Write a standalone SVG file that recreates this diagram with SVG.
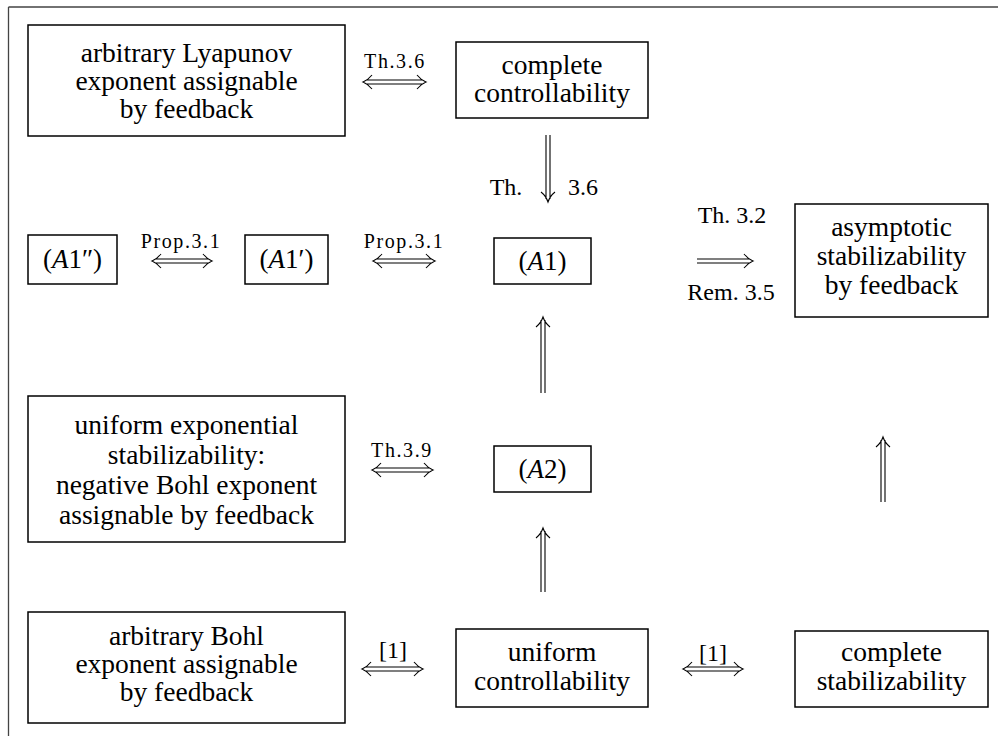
<svg xmlns="http://www.w3.org/2000/svg" width="998" height="738" viewBox="0 0 998 738">
<style>
text{font-family:'Liberation Serif','DejaVu Serif',serif;fill:#000;text-anchor:middle}
.n{font-size:27.5px}
.m{font-size:27px}
.l{font-size:20px;letter-spacing:1.6px}
.L{font-size:24px}
.b{fill:#fff;stroke:#000;stroke-width:1.5}
.a{fill:none;stroke:#000;stroke-width:1.1}
.f{fill:none;stroke:#444;stroke-width:1.3}
</style>
<rect width="998" height="738" fill="#fff"/>
<path class="f" d="M8.5,7 H998 M8.5,7 V736"/>

<g id="n-lyap"><rect class="b" x="28" y="25" width="317" height="111"/>
<text class="n" x="186.5" y="62">arbitrary Lyapunov</text>
<text class="n" x="186.5" y="90">exponent assignable</text>
<text class="n" x="186.5" y="118">by feedback</text></g>

<g id="n-cc"><rect class="b" x="456" y="42" width="192" height="76"/>
<text class="n" x="552" y="74">complete</text>
<text class="n" x="552" y="102">controllability</text></g>

<g id="n-a1pp"><rect class="b" x="28" y="235" width="89" height="49"/>
<text class="m" x="72.5" y="268">(<tspan font-style="italic">A</tspan>1″)</text></g>

<g id="n-a1p"><rect class="b" x="245" y="235" width="83" height="49"/>
<text class="m" x="286.5" y="268">(<tspan font-style="italic">A</tspan>1′)</text></g>

<g id="n-a1"><rect class="b" x="494" y="238" width="97" height="46"/>
<text class="m" x="542.5" y="270">(<tspan font-style="italic">A</tspan>1)</text></g>

<g id="n-asym"><rect class="b" x="795" y="204" width="193" height="113"/>
<text class="n" x="891.5" y="236">asymptotic</text>
<text class="n" x="891.5" y="265">stabilizability</text>
<text class="n" x="891.5" y="294">by feedback</text></g>

<g id="n-ues"><rect class="b" x="28" y="396" width="317" height="146"/>
<text class="n" x="186.5" y="434">uniform exponential</text>
<text class="n" x="186.5" y="464">stabilizability:</text>
<text class="n" x="186.5" y="494">negative Bohl exponent</text>
<text class="n" x="186.5" y="524">assignable by feedback</text></g>

<g id="n-a2"><rect class="b" x="494" y="446" width="97" height="46"/>
<text class="m" x="542.5" y="478">(<tspan font-style="italic">A</tspan>2)</text></g>

<g id="n-bohl"><rect class="b" x="28" y="612" width="317" height="111"/>
<text class="n" x="186.5" y="645">arbitrary Bohl</text>
<text class="n" x="186.5" y="673">exponent assignable</text>
<text class="n" x="186.5" y="701">by feedback</text></g>

<g id="n-uc"><rect class="b" x="456" y="629" width="192" height="78"/>
<text class="n" x="552" y="661">uniform</text>
<text class="n" x="552" y="690">controllability</text></g>

<g id="n-cs"><rect class="b" x="795" y="631" width="193" height="76"/>
<text class="n" x="891.5" y="661">complete</text>
<text class="n" x="891.5" y="690">stabilizability</text></g>

<g id="connectors">
<path class="a" d="M366,80 H423 M366,84 H423 M372,75 Q368,80 363,82 Q368,84 372,89 M417,75 Q421,80 426,82 Q421,84 417,89"/>
<text class="l" x="395" y="68">Th.3.6</text>
<path class="a" d="M546,135 V199 M550,135 V199 M541,192 Q546,196 548,202 Q550,196 555,192"/>
<text class="L" x="506" y="195">Th.</text>
<text class="L" x="583" y="195">3.6</text>
<path class="a" d="M155,259 H209 M155,263 H209 M161,254 Q157,259 152,261 Q157,263 161,268 M203,254 Q207,259 212,261 Q207,263 203,268"/>
<text class="l" x="181" y="248">Prop.3.1</text>
<path class="a" d="M376,259 H432 M376,263 H432 M382,254 Q378,259 373,261 Q378,263 382,268 M426,254 Q430,259 435,261 Q430,263 426,268"/>
<text class="l" x="404" y="248">Prop.3.1</text>
<path class="a" d="M697,259 H750 M697,263 H750 M744,254 Q748,259 753,261 Q748,263 744,268"/>
<text class="L" x="732" y="223">Th. 3.2</text>
<text class="L" x="731" y="300">Rem. 3.5</text>
<path class="a" d="M541,320 V393 M545,320 V393 M536,327 Q541,323 543,317 Q545,323 550,327"/>
<path class="a" d="M375,468 H430 M375,472 H430 M381,463 Q377,468 372,470 Q377,472 381,477 M424,463 Q428,468 433,470 Q428,472 424,477"/>
<text class="l" x="402" y="457">Th.3.9</text>
<path class="a" d="M541,531 V592 M545,531 V592 M536,538 Q541,534 543,528 Q545,534 550,538"/>
<path class="a" d="M881,440 V502 M885,440 V502 M876,447 Q881,443 883,437 Q885,443 890,447"/>
<path class="a" d="M365,667 H420 M365,671 H420 M371,662 Q367,667 362,669 Q367,671 371,676 M414,662 Q418,667 423,669 Q418,671 414,676"/>
<text class="L" x="393" y="658">[1]</text>
<path class="a" d="M686,667 H740 M686,671 H740 M692,662 Q688,667 683,669 Q688,671 692,676 M734,662 Q738,667 743,669 Q738,671 734,676"/>
<text class="L" x="713" y="661">[1]</text>
</g>
</svg>
